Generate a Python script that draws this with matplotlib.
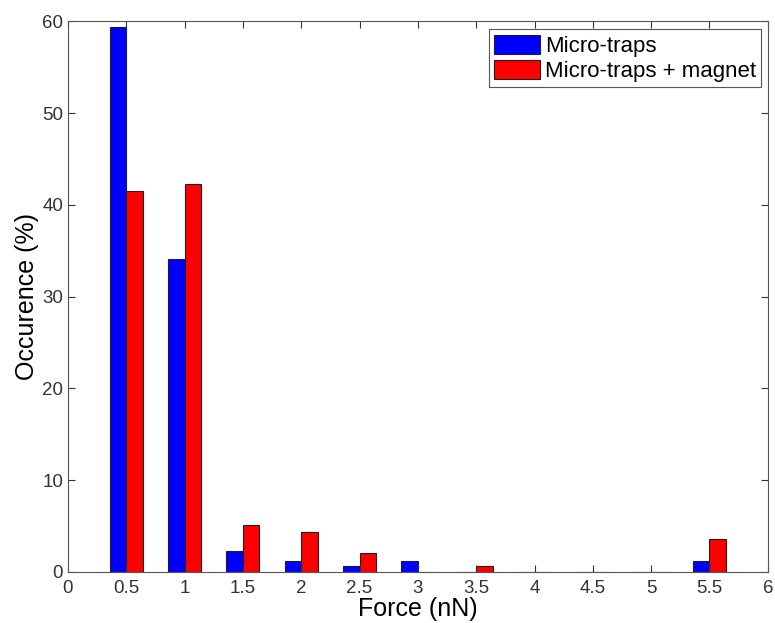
import numpy as np
import matplotlib.pyplot as plt

plt.rcParams['font.family'] = ['Liberation Sans', 'DejaVu Sans']

# Histogram data (percent occurrence per force bin)
force_bins = [0.5, 1.0, 1.5, 2.0, 2.5, 3.0, 3.5, 4.0, 4.5, 5.0, 5.5]
micro_traps = [59.4, 34.1, 2.3, 1.2, 0.6, 1.2, 0.0, 0.0, 0.0, 0.0, 1.2]
micro_traps_magnet = [41.5, 42.3, 5.1, 4.4, 2.1, 0.0, 0.7, 0.0, 0.0, 0.0, 3.6]

xticks = np.arange(0, 6.01, 0.5)
xtick_labels = ["0", "0.5", "1", "1.5", "2", "2.5", "3", "3.5", "4", "4.5", "5", "5.5", "6"]

fig = plt.figure(figsize=(7.75, 6.23), dpi=100)
ax = fig.add_axes([0.0877, 0.0819, 0.903, 0.884])

x = np.array(force_bins)
w = 0.142
ax.bar(x - w / 2, micro_traps, width=w, color='#0000ff', edgecolor='#202020',
       linewidth=0.8, label="Micro-traps")
ax.bar(x + w / 2, micro_traps_magnet, width=w, color='#ff0000', edgecolor='#202020',
       linewidth=0.8, label="Micro-traps + magnet")

ax.set_xlim(0, 6)
ax.set_ylim(0, 60)
ax.set_xticks(xticks)
ax.set_xticklabels(xtick_labels)
ax.set_yticks(np.arange(0, 61, 10))
ax.tick_params(direction='in', top=True, right=True, labelsize=13.5,
               colors='#333333', length=5)
ax.tick_params(axis='x', pad=6)
for s in ax.spines.values():
    s.set_color('#555555')

ax.set_xlabel("Force (nN)", fontsize=18, labelpad=0)
ax.set_ylabel("Occurence (%)", fontsize=18, labelpad=2)

leg = ax.legend(loc='upper right', fontsize=16, fancybox=False, framealpha=1,
                edgecolor='#555555', handlelength=2.07, handleheight=0.95,
                handletextpad=0.2, borderpad=0.25, labelspacing=0.12,
                borderaxespad=0, bbox_to_anchor=(0.991, 0.9855))
leg.get_frame().set_linewidth(0.8)

plt.savefig("out.png", dpi=100)
